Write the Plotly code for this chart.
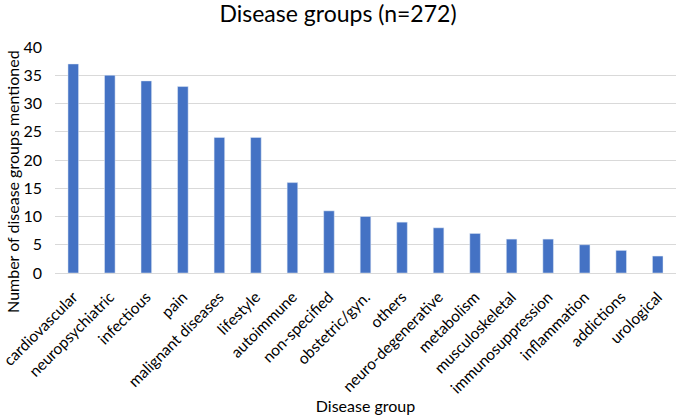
import plotly.graph_objects as go

categories = ["cardiovascular", "neuropsychiatric", "infectious", "pain", "malignant diseases",
              "lifestyle", "autoimmune", "non-specified", "obstetric/gyn.", "others",
              "neuro-degenerative", "metabolism", "musculoskeletal", "immunosuppression",
              "inflammation", "addictions", "urological"]
counts = [37, 35, 34, 33, 24, 24, 16, 11, 10, 9, 8, 7, 6, 6, 5, 4, 3]
y_ticks = [0, 5, 10, 15, 20, 25, 30, 35, 40]

FONT = "Lato, Open Sans, sans-serif"

fig = go.Figure(go.Bar(x=categories, y=counts, marker_color="#4472C4", width=0.29))

fig.update_layout(
    width=676, height=420,
    margin=dict(l=55, r=0, t=47, b=147),
    plot_bgcolor="white", paper_bgcolor="white",
    font=dict(family=FONT, color="#404040"),
    title=dict(text="Disease groups (n=272)", x=0.5, xanchor="center", y=0.966, yanchor="middle",
               font=dict(size=23, color="#000000", family=FONT)),
    showlegend=False,
)
fig.update_xaxes(
    tickangle=-45, tickfont=dict(size=15.5, color="#000000"), automargin=False,
    showline=True, linecolor="#D9D9D9", linewidth=1, ticks="",
    ticklabelstandoff=8,
    title=dict(text="Disease group", font=dict(size=16, color="#000000"), standoff=5),
)
fig.update_yaxes(
    range=[0, 40], tickvals=y_ticks, tickfont=dict(size=16, color="#000000"), automargin=False,
    showgrid=True, gridcolor="#D9D9D9", gridwidth=1, zeroline=False, ticks="",
    ticklabelstandoff=12,
)
fig.add_annotation(
    text="Number of disease groups mentioned", textangle=-90,
    xref="paper", yref="paper", x=-0.0676, y=0.403, xanchor="center", yanchor="middle",
    showarrow=False, font=dict(size=16, color="#000000", family=FONT),
)

fig.write_html("out.html")
